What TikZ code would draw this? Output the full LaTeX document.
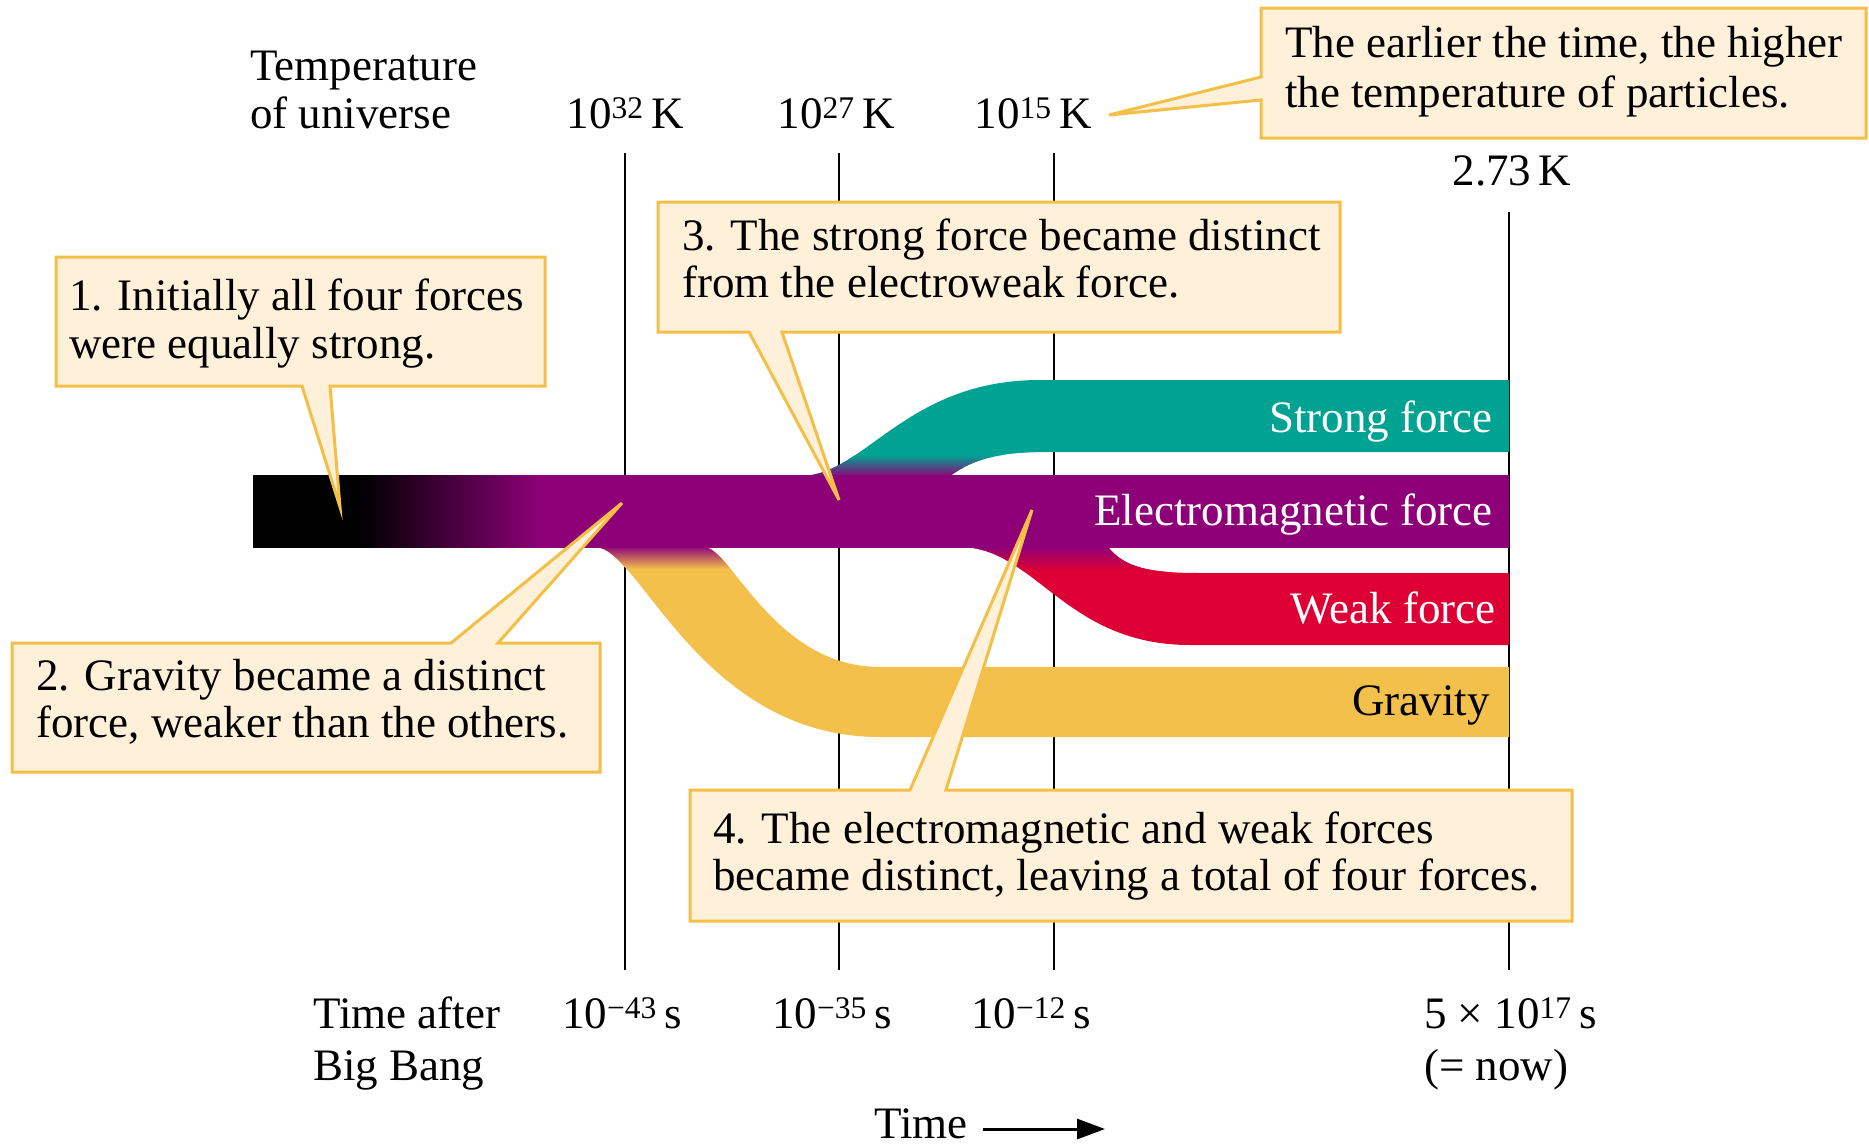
\documentclass[tikz,border=0pt]{standalone}
\usepackage{fontspec}
\setmainfont{Liberation Serif}
\usetikzlibrary{arrows.meta}
\definecolor{cpurple}{RGB}{142,0,120}
\definecolor{cteal}{RGB}{0,163,146}
\definecolor{cred}{RGB}{222,0,52}
\definecolor{cyellow}{RGB}{243,193,75}
\definecolor{boxfill}{RGB}{254,240,217}
\definecolor{boxline}{RGB}{244,191,70}
\begin{document}
\begin{tikzpicture}[x=1pt,y=-1pt,
  font=\fontsize{45}{49}\selectfont,
  txt/.style={inner sep=0pt, anchor=base west},
  ctxt/.style={inner sep=0pt, anchor=base},
  bandlbl/.style={inner sep=0pt, anchor=base east, text=white},
  callout/.style={fill=boxfill, draw=boxline, line width=3pt, line join=miter},
  tline/.style={line width=2pt, black}]
\useasboundingbox (0,0) rectangle (1869,1146);
\fill[white] (0,0) rectangle (1869,1146);

% time lines
\draw[tline] (625,153) -- (625,970);
\draw[tline] (839,153) -- (839,970);
\draw[tline] (1054,153) -- (1054,970);
\draw[tline] (1509,212) -- (1509,970);

% strong force branch
\begin{scope}
\clip (800,476) .. controls (865,476) and (905,380) .. (1040,380) -- (1509,380) -- (1509,452) -- (1050,452) .. controls (1000,452) and (975,458) .. (950,476) -- (950,484) -- (800,484) -- cycle;
\fill[cteal] (780,370) rectangle (1520,490);
\shade[top color=cteal, bottom color=cpurple] (780,455) rectangle (1100,477);
\end{scope}

% weak force branch
\begin{scope}
\clip (960,547) .. controls (1035,547) and (1065,645) .. (1190,645) -- (1509,645) -- (1509,573) -- (1200,573) .. controls (1150,573) and (1125,568) .. (1108,547) -- (1108,540) -- (960,540) -- cycle;
\fill[cred] (900,530) rectangle (1520,660);
\shade[top color=cpurple, bottom color=cred] (900,546) rectangle (1250,571);
\end{scope}

% gravity branch
\begin{scope}
\clip (595,547) .. controls (640,547) and (700,737) .. (880,737) -- (1509,737) -- (1509,667) -- (880,667) .. controls (775,667) and (732,550) .. (705,547) -- (705,540) -- (595,540) -- cycle;
\fill[cyellow] (580,530) rectangle (1520,750);
\shade[top color=cpurple, bottom color=cyellow] (580,546) rectangle (800,569);
\end{scope}

% unified band
\begin{scope}
\clip (253,475) rectangle (1509,547);
\fill[black] (250,470) rectangle (362,552);
\shade[left color=black, right color=cpurple] (360,465) rectangle (542,557);
\fill[cpurple] (540,470) rectangle (1515,552);
\end{scope}

% band labels
\node[bandlbl] (strong) at (1493,432) {Strong force};
\node[bandlbl] (em) at (1493,525) {Electromagnetic force};
\node[bandlbl] (weak) at (1496,623) {Weak force};
\node[bandlbl, text=black] (grav) at (1490,715) {Gravity};

% temperature row
\node[txt] (templ1) at (250,80) {Temperature};
\node[txt] (templ2) at (250,128) {of universe};
\node[ctxt] (t32) at (625,128) {10\textsuperscript{32}\,K};
\node[ctxt] (t27) at (836,128) {10\textsuperscript{27}\,K};
\node[ctxt] (t15) at (1033,128) {10\textsuperscript{15}\,K};
\node[ctxt] (t273) at (1512,185) {2.73\,K};

% time row
\node[txt] (timel1) at (313,1028) {Time after};
\node[txt] (timel2) at (313,1080) {Big Bang};
\node[ctxt] (s43) at (622,1028) {10\textsuperscript{−43}\,s};
\node[ctxt] (s35) at (832,1028) {10\textsuperscript{−35}\,s};
\node[ctxt] (s12) at (1031,1028) {10\textsuperscript{−12}\,s};
\node[txt] (snow) at (1424,1028) {5 × 10\textsuperscript{17}\,s};
\node[txt] (now) at (1424,1080) {(= now)};
\node[txt] (timelbl) at (874,1138) {Time};
\coordinate (arrowstart) at (983,1129);
\coordinate (arrowend) at (1105,1129);
\draw[line width=3pt, -{Triangle[length=28pt,width=20pt]}] (arrowstart) -- (arrowend);

% callout: top right
\draw[callout] (1261,8) -- (1866,8) -- (1866,138) -- (1261,138) -- (1261,100) -- (1109,115) -- (1261,77) -- cycle;
\node[txt] (c0a) at (1285,57) {The earlier the time, the higher};
\node[txt] (c0b) at (1285,107) {the temperature of particles.};

% callout 1
\draw[callout] (56,257) -- (545,257) -- (545,386) -- (330,386) -- (340,507) -- (302,386) -- (56,386) -- cycle;
\node[txt] (c1a) at (69,310) {1. Initially all four forces};
\node[txt] (c1b) at (69,358) {were equally strong.};

% callout 2
\draw[callout] (12,643) -- (451,643) -- (622,503) -- (498,643) -- (600,643) -- (600,772) -- (12,772) -- cycle;
\node[txt] (c2a) at (36,690) {2. Gravity became a distinct};
\node[txt] (c2b) at (36,737) {force, weaker than the others.};

% callout 3
\draw[callout] (658,202) -- (1340,202) -- (1340,332) -- (782,332) -- (839,500) -- (749,332) -- (658,332) -- cycle;
\node[txt] (c3a) at (682,250) {3. The strong force became distinct};
\node[txt] (c3b) at (682,297) {from the electroweak force.};

% callout 4
\draw[callout] (690,790) -- (910,790) -- (1032,510) -- (946,790) -- (1572,790) -- (1572,921) -- (690,921) -- cycle;
\node[txt] (c4a) at (713,843) {4. The electromagnetic and weak forces};
\node[txt] (c4b) at (713,890) {became distinct, leaving a total of four forces.};
\end{tikzpicture}
\end{document}
